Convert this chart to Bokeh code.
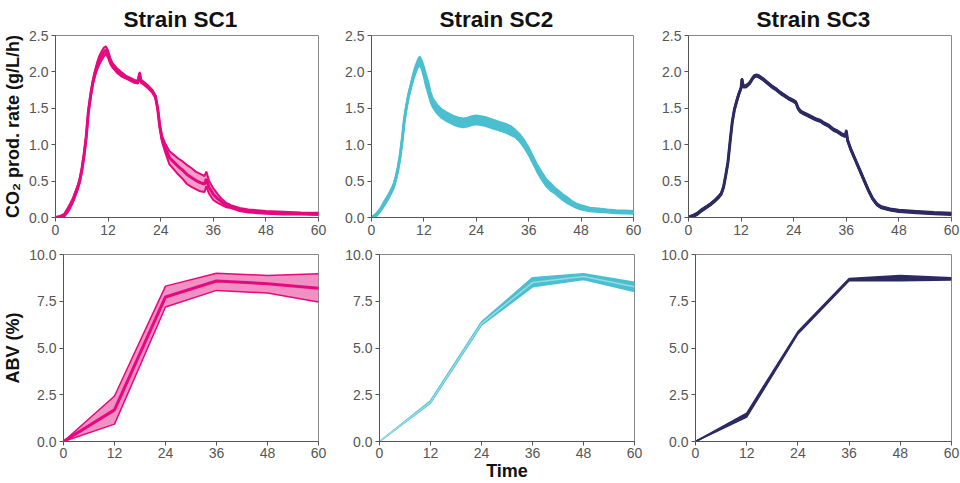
from bokeh.plotting import figure
from bokeh.layouts import column, row
from bokeh.models import Range1d, FixedTicker, PrintfTickFormatter
from bokeh.embed import file_html
from bokeh.resources import INLINE

FONT = "Liberation Sans"
strains = ["Strain SC1", "Strain SC2", "Strain SC3"]
colors = ["#E5097F", "#4ABFD0", "#2C2A63"]
band_colors = ["#EE7DB8", "#4ABFD0", "#2C2A63"]

x_ticks = [0, 12, 24, 36, 48, 60]
co2_ticks = [0.0, 0.5, 1.0, 1.5, 2.0, 2.5]
abv_ticks = [0.0, 2.5, 5.0, 7.5, 10.0]

# ---- CO2 production rate (g/L/h): mean and half-spread of replicates ----
sc1_t = [0, 1, 2, 3, 4, 5, 5.5, 6, 6.5, 7, 7.5, 8, 8.5, 9, 9.5, 10, 10.5, 11, 11.5, 12, 12.5, 13, 14, 15, 16, 17, 18,
         18.8, 19.2, 19.5, 20, 21, 22, 22.8, 23.3, 23.8, 24.3, 25, 26, 27, 28, 29, 30, 31, 32, 33, 34, 34.4, 35, 36,
         37, 38, 39, 40, 42, 44, 46, 48, 52, 56, 60]
sc1_co2 = [0.0, 0.01, 0.03, 0.12, 0.24, 0.4, 0.5, 0.65, 0.85, 1.1, 1.45, 1.67, 1.85, 1.98, 2.08, 2.16, 2.22, 2.27, 2.3,
           2.24, 2.15, 2.09, 2.02, 1.97, 1.93, 1.9, 1.87, 1.86, 1.98, 1.87, 1.85, 1.8, 1.74, 1.66, 1.5, 1.25, 1.08,
           0.96, 0.82, 0.76, 0.7, 0.65, 0.59, 0.55, 0.51, 0.48, 0.46, 0.53, 0.42, 0.32, 0.26, 0.21, 0.17, 0.15, 0.11,
           0.09, 0.08, 0.07, 0.06, 0.055, 0.05]
sc1_sd = [0.0, 0.01, 0.02, 0.03, 0.03, 0.03, 0.03, 0.03, 0.03, 0.03, 0.03, 0.03, 0.03, 0.04, 0.05, 0.06, 0.06, 0.06,
          0.05, 0.05, 0.04, 0.03, 0.03, 0.03, 0.02, 0.02, 0.02, 0.02, 0.02, 0.02, 0.02, 0.02, 0.02, 0.02, 0.02, 0.03,
          0.04, 0.06, 0.09, 0.1, 0.11, 0.12, 0.13, 0.13, 0.12, 0.12, 0.11, 0.1, 0.09, 0.08, 0.06, 0.04, 0.03, 0.02,
          0.02, 0.02, 0.02, 0.02, 0.02, 0.015, 0.015]

sc2_t = [0, 1, 2, 3, 4, 5, 5.5, 6, 6.5, 7, 7.5, 8, 8.5, 9, 9.5, 10, 10.5, 11, 11.5, 12, 12.5, 13, 13.5, 14, 15, 16,
         17, 18, 19, 20, 21, 22, 23, 24, 25, 26, 27, 28, 29, 30, 31, 32, 33, 34, 35, 36, 37, 38, 39, 40, 41, 42, 43,
         44, 45, 46, 47, 48, 50, 52, 54, 56, 58, 60]
sc2_co2 = [0.0, 0.03, 0.1, 0.2, 0.3, 0.42, 0.52, 0.65, 0.82, 1.05, 1.33, 1.52, 1.68, 1.8, 1.92, 2.02, 2.1, 2.15, 2.1,
           2.0, 1.88, 1.78, 1.66, 1.58, 1.49, 1.43, 1.39, 1.36, 1.33, 1.31, 1.3, 1.31, 1.33, 1.34, 1.33, 1.32, 1.3,
           1.28, 1.26, 1.24, 1.22, 1.19, 1.15, 1.09, 1.01, 0.91, 0.79, 0.67, 0.57, 0.48, 0.42, 0.37, 0.32, 0.27,
           0.23, 0.19, 0.16, 0.14, 0.11, 0.1, 0.09, 0.08, 0.075, 0.07]
sc2_sd = [0.0, 0.02, 0.02, 0.03, 0.03, 0.03, 0.03, 0.03, 0.03, 0.03, 0.03, 0.03, 0.03, 0.03, 0.04, 0.05, 0.05, 0.06,
          0.06, 0.07, 0.08, 0.08, 0.07, 0.06, 0.06, 0.06, 0.06, 0.06, 0.06, 0.06, 0.06, 0.06, 0.06, 0.06, 0.06, 0.06,
          0.06, 0.06, 0.06, 0.06, 0.06, 0.06, 0.05, 0.05, 0.05, 0.05, 0.05, 0.05, 0.05, 0.05, 0.05, 0.04, 0.04, 0.04,
          0.04, 0.03, 0.03, 0.03, 0.025, 0.025, 0.02, 0.02, 0.02, 0.02]

sc3_t = [0, 1, 2, 3, 4, 5, 6, 7, 7.5, 8, 8.5, 9, 9.5, 10, 10.5, 11, 11.5, 12, 12.2, 12.5, 13, 13.5, 14, 14.5, 15,
         15.5, 16, 17, 18, 19, 20, 21, 22, 23, 24, 24.5, 25, 25.5, 26, 27, 28, 29, 30, 31, 32, 33, 34, 35, 35.8, 36,
         36.3, 37, 38, 39, 40, 41, 42, 43, 44, 46, 48, 52, 56, 60]
sc3_co2 = [0.0, 0.02, 0.05, 0.1, 0.14, 0.18, 0.23, 0.29, 0.33, 0.42, 0.58, 0.76, 1.05, 1.32, 1.49, 1.6, 1.7, 1.78,
           1.9, 1.8, 1.8, 1.82, 1.85, 1.9, 1.94, 1.95, 1.94, 1.9, 1.85, 1.8, 1.76, 1.71, 1.67, 1.63, 1.6, 1.58, 1.5,
           1.46, 1.44, 1.41, 1.38, 1.35, 1.33, 1.29, 1.26, 1.21, 1.18, 1.14, 1.12, 1.19, 1.06, 0.94, 0.8, 0.66, 0.52,
           0.38, 0.26, 0.18, 0.14, 0.11, 0.09, 0.075, 0.06, 0.05]
sc3_sd = [0.015] * len(sc3_t)

# ---- ABV (%) at sampling times: lower, centre, upper ----
abv_t = [0, 12, 24, 36, 48, 60]
sc1_abv_lo = [0.0, 0.93, 7.19, 8.08, 7.94, 7.46]
sc1_abv = [0.0, 1.69, 7.73, 8.58, 8.44, 8.2]
sc1_abv_hi = [0.0, 2.43, 8.31, 9.0, 8.88, 8.97]
sc2_abv_lo = [0.0, 2.05, 6.22, 8.27, 8.66, 8.02]
sc2_abv = [0.0, 2.11, 6.3, 8.5, 8.82, 8.27]
sc2_abv_hi = [0.0, 2.18, 6.4, 8.76, 8.97, 8.52]
sc3_abv_lo = [0.0, 1.3, 5.75, 8.6, 8.6, 8.64]
sc3_abv = [0.0, 1.4, 5.8, 8.65, 8.73, 8.7]
sc3_abv_hi = [0.0, 1.52, 5.88, 8.72, 8.88, 8.76]

co2_data = [(sc1_t, sc1_co2, sc1_sd), (sc2_t, sc2_co2, sc2_sd), (sc3_t, sc3_co2, sc3_sd)]
abv_data = [(sc1_abv_lo, sc1_abv, sc1_abv_hi), (sc2_abv_lo, sc2_abv, sc2_abv_hi), (sc3_abv_lo, sc3_abv, sc3_abv_hi)]

W = [336, 316, 308]
TOP_L = [55, 35, 36]
TOP_R = [18, 19, 9]
BOT_L = [63, 43, 43]
BOT_R = [18, 18, 9]


def style(p, yticks):
    p.x_range = Range1d(0, 60)
    p.xaxis.ticker = FixedTicker(ticks=x_ticks)
    p.yaxis.ticker = FixedTicker(ticks=yticks)
    p.yaxis.formatter = PrintfTickFormatter(format="%.1f")
    p.xgrid.visible = False
    p.ygrid.visible = False
    p.outline_line_color = "#888888"
    p.outline_line_width = 1
    for ax in (p.xaxis[0], p.yaxis[0]):
        ax.axis_line_color = "#555555"
        ax.major_tick_line_color = "#555555"
        ax.major_tick_out = 4
        ax.major_tick_in = 0
        ax.minor_tick_line_color = None
        ax.major_label_text_font = FONT
        ax.major_label_text_font_size = "14px"
        ax.major_label_text_color = "#555555"
        ax.major_label_standoff = 3
        ax.axis_label_text_font = FONT
        ax.axis_label_text_font_size = "18px"
        ax.axis_label_text_font_style = "bold"
        ax.axis_label_text_color = "#111111"
        ax.axis_label_standoff = 3


top = []
for i in range(3):
    t, m, sd = co2_data[i]
    lo = [a - b for a, b in zip(m, sd)]
    hi = [a + b for a, b in zip(m, sd)]
    p = figure(width=W[i], height=241, output_backend="svg", toolbar_location=None,
               min_border_left=TOP_L[i], min_border_right=TOP_R[i], min_border_top=35, min_border_bottom=24,
               title=strains[i])
    p.y_range = Range1d(0, 2.5)
    style(p, co2_ticks)
    p.title.align = "left"
    p.title.offset = 68
    p.title.text_font = FONT
    p.title.text_font_size = "22.5px"
    p.title.text_font_style = "bold"
    p.title.text_color = "#111111"
    p.title.standoff = 8
    p.varea(x=t, y1=lo, y2=hi, fill_color=band_colors[i], fill_alpha=0.75 if i == 0 else 1.0)
    p.line(t, lo, line_color=colors[i], line_width=2)
    p.line(t, hi, line_color=colors[i], line_width=2)
    p.line(t, m, line_color=colors[i], line_width=3)
    if i == 0:
        p.yaxis.axis_label = "CO\u2082 prod. rate (g/L/h)"
    top.append(p)

bot = []
for i in range(3):
    lo, m, hi = abv_data[i]
    p = figure(width=W[i], height=242, output_backend="svg", toolbar_location=None,
               min_border_left=BOT_L[i], min_border_right=BOT_R[i], min_border_top=13, min_border_bottom=41)
    p.y_range = Range1d(0, 10)
    style(p, abv_ticks)
    p.xaxis.major_label_standoff = 2
    p.xaxis.axis_label_standoff = 0
    p.varea(x=abv_t, y1=lo, y2=hi, fill_color=band_colors[i], fill_alpha=0.85 if i == 0 else 1.0)
    p.line(abv_t, lo, line_color=colors[i], line_width=1.5)
    p.line(abv_t, hi, line_color=colors[i], line_width=1.5)
    mid_color = colors[i] if i != 1 else "#9AD9E3"
    p.line(abv_t, m, line_color=mid_color, line_width=3 if i == 0 else 1.5)
    if i == 0:
        p.yaxis.axis_label = "ABV (%)"
    if i == 1:
        p.xaxis.axis_label = "Time"
    bot.append(p)

layout = column(row(*top), row(*bot))
open("out.html", "w").write(file_html(layout, INLINE))
